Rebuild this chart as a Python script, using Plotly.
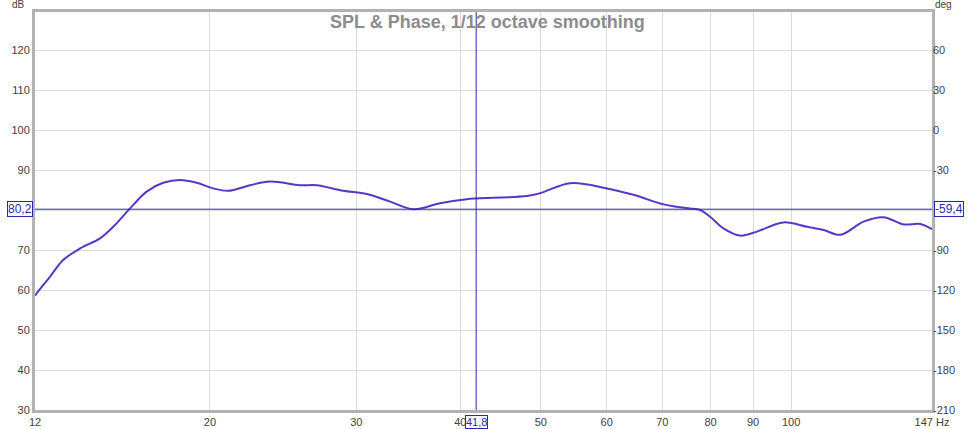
import numpy as np
import plotly.graph_objects as go

# ---- data ----
freq_hz = [12.32, 12.49, 12.84, 13.32, 13.96, 14.75, 15.30, 16.03, 16.78, 17.57,
           18.41, 19.28, 20.18, 21.04, 22.34, 23.62, 25.67, 26.88, 28.93, 30.87,
           32.94, 35.13, 37.81, 40.72, 41.87, 48.09, 49.89, 54.23, 60.03, 64.61,
           70.23, 72.87, 75.61, 77.73, 79.90, 82.90, 86.82, 90.93, 97.86, 104.5,
           109.4, 114.6, 122.2, 129.1, 136.5, 143.0, 147.7]
spl_db = [58.6, 60.2, 63.3, 67.5, 70.4, 72.9, 75.8, 80.4, 84.6, 86.8,
          87.5, 86.8, 85.4, 84.8, 86.2, 87.1, 86.2, 86.2, 84.8, 84.0,
          82.1, 80.2, 81.7, 82.7, 82.9, 83.5, 84.2, 86.7, 85.4, 83.8,
          81.4, 80.8, 80.4, 80.0, 78.3, 75.4, 73.6, 74.6, 76.9, 75.8,
          75.0, 73.8, 77.1, 78.2, 76.4, 76.5, 75.2]

x_tick_vals = [12.32, 20, 30, 40, 50, 60, 70, 80, 90, 100, 147.7]
x_tick_text = ["12", "20", "30", "40", "50", "60", "70", "80", "90", "100", "147 Hz"]
db_ticks = [30, 40, 50, 60, 70, 80, 90, 100, 110, 120]
db_tick_text = ["30", "40", "50", "60", "70", "", "90", "100", "110", "120"]   # 80 hidden by cursor box
deg_ticks = [-210, -180, -150, -120, -90, -60, -30, 0, 30, 60]
deg_tick_text = ["-210", "-180", "-150", "-120", "-90", "", "-30", "0", "30", "60"]  # -60 hidden by cursor box

freq_range = [12.32, 147.7]
db_range = [30, 129.5]
deg_range = [-210, 88.5]

cursor_freq = 41.8
cursor_db = 80.2
cursor_deg = -59.4

title_text = "SPL & Phase, 1/12 octave smoothing"

# ---- styling ----
curve_color = "#5a36c8"
cursor_color = "#2a2ab0"
grid_color = "#dadada"
frame_color = "#b2b2b2"
label_color = "#404040"
font_family = "Arial, Liberation Sans, sans-serif"

fig = go.Figure()

fig.add_trace(go.Scatter(
    x=freq_hz, y=spl_db, mode="lines",
    line=dict(color=curve_color, width=2, shape="spline", smoothing=1.0),
    hoverinfo="skip", showlegend=False))

# cursor lines
fig.add_trace(go.Scatter(
    x=[cursor_freq, cursor_freq], y=db_range, mode="lines",
    line=dict(color=cursor_color, width=1), hoverinfo="skip", showlegend=False))
fig.add_trace(go.Scatter(
    x=freq_range, y=[cursor_deg, cursor_deg], mode="lines", yaxis="y2",
    line=dict(color=cursor_color, width=1), hoverinfo="skip", showlegend=False))

fig.update_layout(
    width=975, height=429,
    margin=dict(l=35, r=43, t=12, b=19, autoexpand=False),
    paper_bgcolor="white", plot_bgcolor="white",
    font=dict(family=font_family, size=11, color=label_color),
    xaxis=dict(
        type="log", range=[np.log10(freq_range[0]), np.log10(freq_range[1])],
        tickvals=x_tick_vals, ticktext=x_tick_text, automargin=False,
        showgrid=True, gridcolor=grid_color, gridwidth=1,
        showline=True, linecolor=frame_color, linewidth=3, mirror=True,
        ticks="", ticklabelstandoff=0, zeroline=False,
        tickfont=dict(size=11, color=label_color),
    ),
    yaxis=dict(
        range=db_range, tickvals=db_ticks, ticktext=db_tick_text, automargin=False,
        showgrid=True, gridcolor=grid_color, gridwidth=1,
        showline=True, linecolor=frame_color, linewidth=3, mirror=True,
        ticks="", zeroline=False, tickfont=dict(size=11, color=label_color),
    ),
    yaxis2=dict(
        range=deg_range, tickvals=deg_ticks, ticktext=deg_tick_text,
        overlaying="y", side="right", automargin=False,
        showgrid=False, showline=False, ticks="", zeroline=False,
        tickfont=dict(size=11, color=label_color),
    ),
)

def fmt(v):
    return f"{v:.1f}".replace(".", ",")

annotations = [
    dict(text=title_text, xref="paper", yref="paper", x=0.504, y=0.975,
         xanchor="center", yanchor="middle", showarrow=False,
         font=dict(size=18, color="#8c8c8c", family=font_family, weight="bold")),
    dict(text="dB", xref="paper", yref="paper", x=0, y=1, xanchor="right", yanchor="bottom",
         xshift=-8, yshift=0, showarrow=False, font=dict(size=10, color=label_color)),
    dict(text="deg", xref="paper", yref="paper", x=1, y=1, xanchor="left", yanchor="bottom",
         xshift=1, yshift=0, showarrow=False, font=dict(size=10, color=label_color)),
    dict(text=fmt(cursor_db), xref="paper", yref="y", x=0, y=cursor_db,
         xanchor="right", yanchor="middle", xshift=-2, showarrow=False,
         bgcolor="white", bordercolor=cursor_color, borderwidth=1, borderpad=0,
         font=dict(size=12, color=cursor_color)),
    dict(text=fmt(cursor_deg), xref="paper", yref="y2", x=1, y=cursor_deg,
         xanchor="left", yanchor="middle", xshift=2, showarrow=False,
         bgcolor="white", bordercolor=cursor_color, borderwidth=1, borderpad=0,
         font=dict(size=12, color=cursor_color)),
    dict(text=fmt(cursor_freq), xref="x", yref="paper", x=np.log10(cursor_freq), y=0,
         xanchor="center", yanchor="top", yshift=-5, showarrow=False,
         bgcolor="white", bordercolor=cursor_color, borderwidth=1, borderpad=0,
         font=dict(size=11, color=cursor_color)),
]
fig.update_layout(annotations=annotations)

fig.write_html("out.html")
